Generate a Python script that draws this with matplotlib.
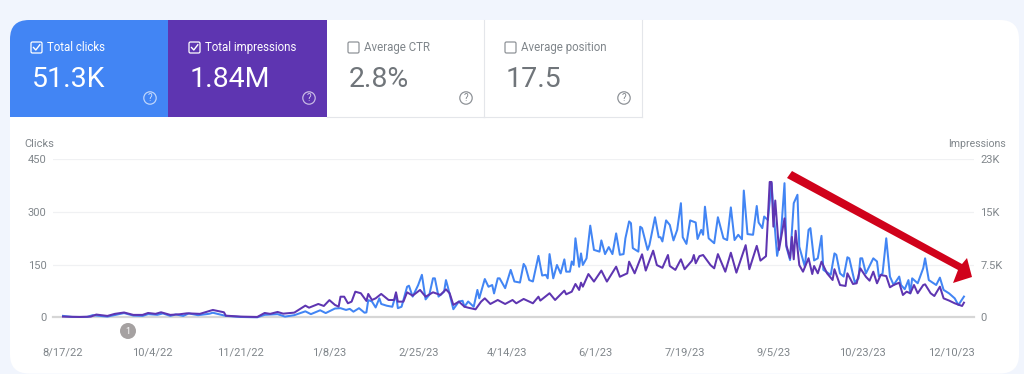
import matplotlib
matplotlib.use("Agg")
import matplotlib.pyplot as plt
from matplotlib.patches import FancyBboxPatch, Rectangle, Circle, Polygon

plt.rcParams['font.family'] = ['Roboto', 'DejaVu Sans']

# ---------- data ----------
tile_titles = ["Total clicks", "Total impressions", "Average CTR", "Average position"]
tile_values = ["51.3K", "1.84M", "2.8%", "17.5"]
tick_labels = ["8/17/22", "10/4/22", "11/21/22", "1/8/23", "2/25/23", "4/14/23",
               "6/1/23", "7/19/23", "9/5/23", "10/23/23", "12/10/23"]
tick_days = [0, 48, 96, 144, 192, 240, 288, 336, 384, 432, 480]
clicks_ticks = [0, 150, 300, 450]
impr_ticks = [0, 7667, 15333, 23000]
impr_tick_labels = ["0", "7.5K", "15K", "23K"]

clicks_days = [0, 5, 13, 16, 24, 33, 38, 43, 46, 51, 54, 58, 61, 65, 68, 73, 79, 81, 88, 96, 105, 109,
               116, 120, 125, 131, 134, 139, 142, 147, 150, 153, 155, 157, 160, 163, 164, 165, 167,
               169, 171, 172, 175, 178, 180, 181, 183, 186, 187, 189, 192, 194, 196, 198, 200, 201,
               203, 206, 207, 208, 211, 214, 216, 217, 219, 222, 224, 225, 228, 230, 232, 233, 235,
               236, 239, 242, 244, 247, 249, 250, 252, 254, 257, 259, 261, 262, 263, 265, 267, 269,
               271, 272, 274, 275, 276, 277, 279, 280, 281, 283, 285, 287, 290, 291, 293, 295, 297,
               299, 301, 303, 304, 306, 307, 308, 311, 312, 313, 316, 317, 320, 322, 323, 324, 326,
               328, 330, 332, 334, 335, 337, 339, 342, 343, 345, 346, 347, 349, 352, 354, 357, 359,
               361, 363, 365, 367, 368, 370, 373, 375, 376, 378, 379, 381, 383, 384, 386, 388, 390,
               391, 393, 395, 397, 398, 401, 403, 404, 406, 408, 410, 411, 415, 417, 418, 420, 422,
               424, 425, 428, 430, 431, 432, 434, 438, 440, 441, 443, 445, 447, 449, 452, 453, 455,
               457, 458, 459, 462, 465, 466, 468, 472, 474, 476, 479, 482, 484, 487]
clicks = [4, 1, 1, 6, 2, 12, 5, 4, 9, 7, 11, 4, 8, 4, 11, 6, 10, 13, 4, 1, 0, 7,
          9, 2, 6, 17, 9, 20, 12, 25, 26, 21, 24, 16, 26, 13, 14, 49, 45,
          28, 54, 38, 33, 30, 66, 26, 30, 87, 90, 59, 92, 121, 51, 64, 111, 111,
          59, 73, 106, 87, 23, 45, 47, 30, 45, 30, 78, 54, 109, 87, 92, 68, 111,
          111, 83, 135, 102, 99, 152, 144, 106, 102, 175, 119, 121, 111, 180, 111, 149, 125,
          165, 130, 130, 159, 149, 225, 144, 182, 149, 168, 261, 192, 187, 219, 180, 200, 180,
          239, 178, 180, 225, 273, 268, 197, 187, 258, 254, 192, 206, 285, 228, 228, 216, 276,
          263, 219, 249, 325, 228, 209, 276, 270, 223, 249, 235, 315, 225, 211, 285, 225, 220,
          313, 220, 235, 222, 361, 237, 235, 317, 270, 254, 287, 277, 382, 306, 175, 230, 382,
          201, 163, 325, 349, 201, 144, 249, 254, 162, 168, 232, 135, 121, 182, 178, 125, 116,
          171, 168, 99, 111, 168, 168, 125, 168, 159, 116, 125, 225, 116, 92, 116, 92, 80,
          106, 68, 111, 97, 140, 168, 106, 92, 113, 78, 68, 54, 35, 59]

impr_days = [0, 9, 15, 18, 24, 28, 33, 38, 43, 46, 50, 53, 58, 63, 67, 74, 81, 87, 88, 96, 105, 109,
             112, 116, 119, 125, 131, 133, 138, 141, 144, 147, 149, 150, 152, 154, 156, 158, 161,
             164, 165, 167, 169, 172, 176, 179, 180, 181, 184, 186, 189, 193, 196, 200, 204, 207,
             209, 211, 214, 217, 219, 223, 226, 228, 231, 235, 239, 243, 245, 249, 254, 257, 258,
             263, 266, 271, 272, 275, 277, 279, 280, 281, 284, 287, 291, 294, 299, 301, 305, 306,
             309, 313, 315, 319, 321, 324, 327, 328, 331, 334, 336, 340, 341, 342, 344, 346, 350,
             352, 354, 358, 361, 364, 369, 371, 375, 377, 380, 382, 383, 384, 385, 387, 390, 391,
             393, 394, 395, 396, 398, 400, 403, 405, 406, 408, 410, 413, 416, 417, 420, 423, 424,
             427, 429, 431, 434, 436, 438, 440, 442, 445, 447, 449, 452, 454, 456, 458, 460, 462,
             465, 466, 469, 471, 474, 476, 479, 482, 486, 487]
impressions_k = [0.1, 0.05, 0.1, 0.4, 0.2, 0.5, 0.7, 0.35, 0.35, 0.63, 0.5, 0.73, 0.35, 0.44, 0.58, 0.5,
                 1.07, 0.73, 0.24, 0.1, 0.05, 0.63,
                 0.5, 0.78, 0.53, 0.68, 1.7, 1.4, 1.94, 1.65, 2.5, 1.8, 1.55, 3.0, 3.0, 2.04, 2.28, 3.73, 3.5,
                 2.38, 3.4, 2.52, 2.76, 3.4, 2.52, 2.52, 3.64, 2.28, 2.28, 3.64, 3.15, 3.98, 3.0, 3.64, 3.25, 4.07,
                 3.5, 1.8, 2.28, 1.55, 1.4, 1.16, 2.28, 2.76, 1.94, 2.52, 1.94, 2.52, 2.04, 2.67, 2.04, 3.0, 2.43,
                 3.5, 2.52, 3.88, 3.35, 3.73, 4.85, 3.98, 5.04, 4.46, 6.3, 5.2, 6.8, 5.2, 7.37, 5.9, 6.4, 8.1,
                 6.4, 9.17, 6.8, 9.7, 7.6, 7.2, 9.07, 7.47, 6.9, 8.44, 7.0, 8.25, 9.07, 7.86, 8.9, 9.07, 7.6,
                 7.13, 9.2, 6.64, 9.4, 6.5, 10.5, 7.0, 10.4, 8.25, 8.9, 19.7, 19.7, 13.2, 17.0, 9.8, 14.4, 10.5,
                 8.6, 11.7, 8.44, 12.6, 7.6, 6.64, 8.6, 6.3, 7.47, 6.4, 8.1, 6.4, 5.43, 7.0, 4.7, 4.56, 6.4,
                 4.85, 4.95, 7.13, 5.9, 5.33, 6.64, 4.95, 6.16, 6.0, 4.37, 4.7, 5.04, 3.25, 3.73, 3.5, 4.7, 3.5,
                 4.7, 4.8, 3.5, 3.1, 4.46, 2.76, 2.43, 2.04, 1.65, 2.13]
impressions = [v * 1000 for v in impressions_k]

# ---------- style ----------
W, H = 1024, 374
BG = "#f1f5fd"
BLUE = "#4285f4"
PURPLE = "#5e35b1"
GREY = "#80868b"
RED = "#d0021b"

fig = plt.figure(figsize=(W / 100, H / 100), dpi=100, facecolor=BG)


def px_axes(zorder):
    a = fig.add_axes([0, 0, 1, 1], zorder=zorder)
    a.set_xlim(0, W)
    a.set_ylim(H, 0)
    a.axis("off")
    a.patch.set_alpha(0)
    return a


bg = px_axes(0)
card = FancyBboxPatch((10, 20), 1009, 353.5, boxstyle="round,pad=0,rounding_size=19",
                      fc="white", ec="none")
bg.add_patch(card)

tile_edges = [10, 168, 327, 484, 642]
tile_colors = [BLUE, PURPLE, "white", "white"]
for i, (title, val) in enumerate(zip(tile_titles, tile_values)):
    x0, x1 = tile_edges[i], tile_edges[i + 1]
    r = Rectangle((x0, 20), x1 - x0, 97, fc=tile_colors[i], ec="none")
    bg.add_patch(r)
    r.set_clip_path(card)
    on = i < 2
    fg = "white" if on else "#70757a"
    if not on:
        bg.plot([x1, x1], [20, 117], color="#e4e6ea", lw=0.8)
        bg.plot([x0, x1], [117, 117], color="#e4e6ea", lw=0.8)
    bx = x0 + 21
    bg.add_patch(FancyBboxPatch((bx, 42), 11, 11, boxstyle="round,pad=0,rounding_size=1.5",
                                fc="none", ec=fg if on else "#8f9398", lw=0.9))
    if on:
        bg.plot([bx + 2.5, bx + 4.8, bx + 8.8], [47.5, 50, 44.8], color="white", lw=1.0)
    bg.text(x0 + 37, 47.5, title, color=fg if on else "#80868b", fontsize=8.3, va="center", ha="left")
    bg.text(x0 + 22, 79, val, color=fg, fontsize=20.5, va="center", ha="left")
    qx = x1 - 18
    bg.add_patch(Circle((qx, 98), 6.2, fc="none", ec="#ffffff" if on else "#8f9398", lw=0.9,
                        alpha=0.65 if on else 1))
    bg.text(qx, 98, "?", color="#ffffff" if on else "#80868b", fontsize=7, ha="center", va="center",
            alpha=0.75 if on else 1)

# ---------- chart axes ----------
L, R, T, B = 53, 974, 159.3, 317.3
ax = fig.add_axes([L / W, 1 - B / H, (R - L) / W, (B - T) / H], zorder=1)
ax.patch.set_alpha(0)
ax2 = ax.twinx()
ax2.patch.set_alpha(0)
ax.set_xlim((L - 63) / 1.85, (R - 63) / 1.85)
ax.set_ylim(0, 450)
ax2.set_ylim(0, 23000)
for a in (ax, ax2):
    for s in a.spines.values():
        s.set_visible(False)
ax.spines["bottom"].set_visible(True)
ax.spines["bottom"].set_color("#d6d6d6")
ax.spines["bottom"].set_linewidth(1.6)

ax.set_yticks(clicks_ticks)
ax.grid(axis="y", color="#f0f1f3", lw=0.9)
ax.set_axisbelow(True)
ax.set_xticks(tick_days)
ax.set_xticklabels(tick_labels)
ax.tick_params(axis="x", length=0, pad=22, labelsize=8, labelcolor=GREY)
ax.tick_params(axis="y", length=0, pad=4.5, labelsize=8, labelcolor=GREY)
ax2.set_yticks(impr_ticks)
ax2.set_yticklabels(impr_tick_labels)
ax2.tick_params(axis="y", length=0, pad=4.5, labelsize=8, labelcolor=GREY)

ax.plot(clicks_days, clicks, color=BLUE, lw=1.45, zorder=3, solid_joinstyle="round", clip_on=False)
ax2.plot(impr_days, impressions, color=PURPLE, lw=1.45, zorder=3, solid_joinstyle="round", clip_on=False)

# ---------- overlay ----------
ov = px_axes(3)
ov.text(24, 144, "Clicks", color=GREY, fontsize=8, ha="left", va="center")
ov.text(1006, 144, "Impressions", color=GREY, fontsize=7.6, ha="right", va="center")
ov.add_patch(Circle((128, 331), 8, fc="#a5a1a1", ec="none"))
ov.text(128, 331, "1", color="white", fontsize=6.5, ha="center", va="center")
ov.add_patch(Polygon([(792, 171), (787, 178), (958, 270), (953, 283), (972, 277),
                      (967, 258), (962, 264)], closed=True, fc=RED, ec="none"))

fig.savefig("out.png", dpi=100, facecolor=BG)
